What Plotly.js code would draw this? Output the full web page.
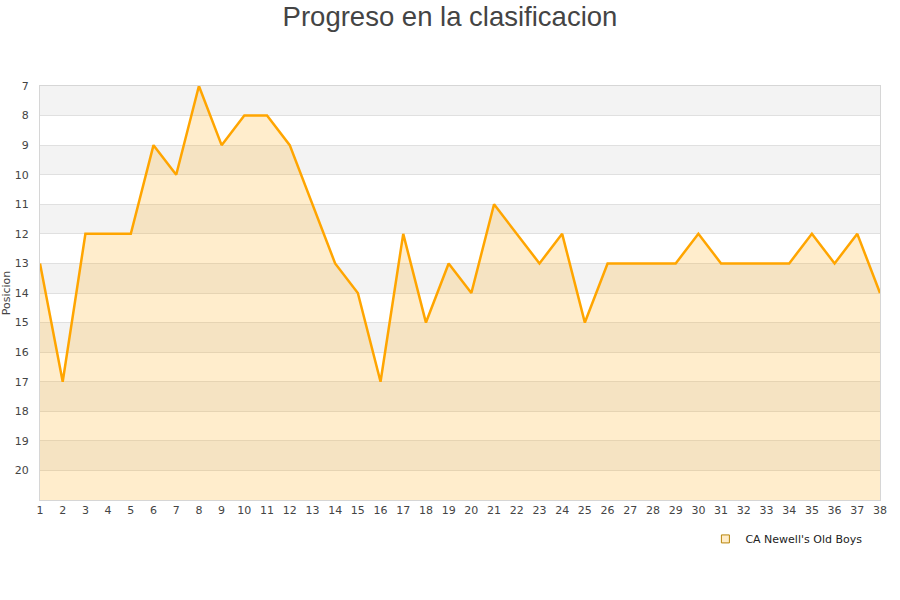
<!DOCTYPE html>
<html>
<head>
<meta charset="utf-8">
<script src="https://cdn.plot.ly/plotly-3.0.1.min.js"></script>
<style>html,body{margin:0;padding:0;background:#fff;}#chart{width:900px;height:600px;}</style>
</head>
<body>
<div id="chart"></div>
<script>
const jornadas = [1,2,3,4,5,6,7,8,9,10,11,12,13,14,15,16,17,18,19,20,21,22,23,24,25,26,27,28,29,30,31,32,33,34,35,36,37,38];
const posiciones = [13,17,12,12,12,9,10,7,9,8,8,9,11,13,14,17,12,15,13,14,11,12,13,12,15,13,13,13,13,12,13,13,13,13,12,13,12,14];
const yTickVals = [7,8,9,10,11,12,13,14,15,16,17,18,19,20];
const yTop = 7;
const yBottom = 21;
const teamName = "CA Newell's Old Boys";

const baseline = jornadas.map(() => yBottom);

const shapes = [];
for (let v = yTop; v < yBottom; v += 2) {
  shapes.push({type:'rect', xref:'paper', yref:'y', x0:0, x1:1, y0:v, y1:v+1,
    fillcolor:'#f3f3f3', line:{width:0}, layer:'below'});
}

const traces = [
  {x: jornadas, y: baseline, mode:'lines', line:{width:0, color:'rgba(0,0,0,0)'},
   showlegend:false, hoverinfo:'skip'},
  {x: jornadas, y: posiciones, mode:'lines', name: teamName, showlegend:false,
   line:{color:'#ffa500', width:2.5}, fill:'tonexty', fillcolor:'rgba(255,165,0,0.2)'},
  {x:[null], y:[null], mode:'markers', name: teamName, showlegend:true,
   marker:{symbol:'square', size:8, color:'#ffecc8', line:{color:'#b8860b', width:1}}}
];

const layout = {
  width:900, height:600,
  margin:{l:40, r:20, t:86, b:100},
  paper_bgcolor:'#ffffff', plot_bgcolor:'#ffffff',
  font:{family:'DejaVu Sans, sans-serif', color:'#444', size:11},
  title:{text:'Progreso en la clasificacion', x:0.5, xanchor:'center', y:0.972, yanchor:'middle',
    font:{family:'Liberation Sans, Arial, sans-serif', size:27.5, color:'#444'}},
  xaxis:{range:[1,38], tickvals:jornadas, ticks:'', showgrid:false, zeroline:false,
    showline:true, linecolor:'#d6d6d6', linewidth:1, mirror:true,
    tickfont:{size:11, color:'#444'}, fixedrange:true},
  yaxis:{range:[yBottom, yTop], tickvals:yTickVals, ticks:'', showgrid:true, gridcolor:'#e0e0e0',
    zeroline:false, showline:true, linecolor:'#d6d6d6', linewidth:1, mirror:true,
    tickfont:{size:11, color:'#444'}, ticklabelstandoff:8,
    title:{text:'Posicion', font:{size:11, color:'#444'}, standoff:8}},
  shapes: shapes,
  showlegend:true,
  legend:{orientation:'h', x:0.985, xanchor:'right', y:-0.094, yanchor:'middle',
    itemwidth:30, font:{size:11, color:'#222'}, bgcolor:'rgba(0,0,0,0)'}
};

Plotly.newPlot('chart', traces, layout, {displayModeBar:false, staticPlot:true});
</script>
</body>
</html>
